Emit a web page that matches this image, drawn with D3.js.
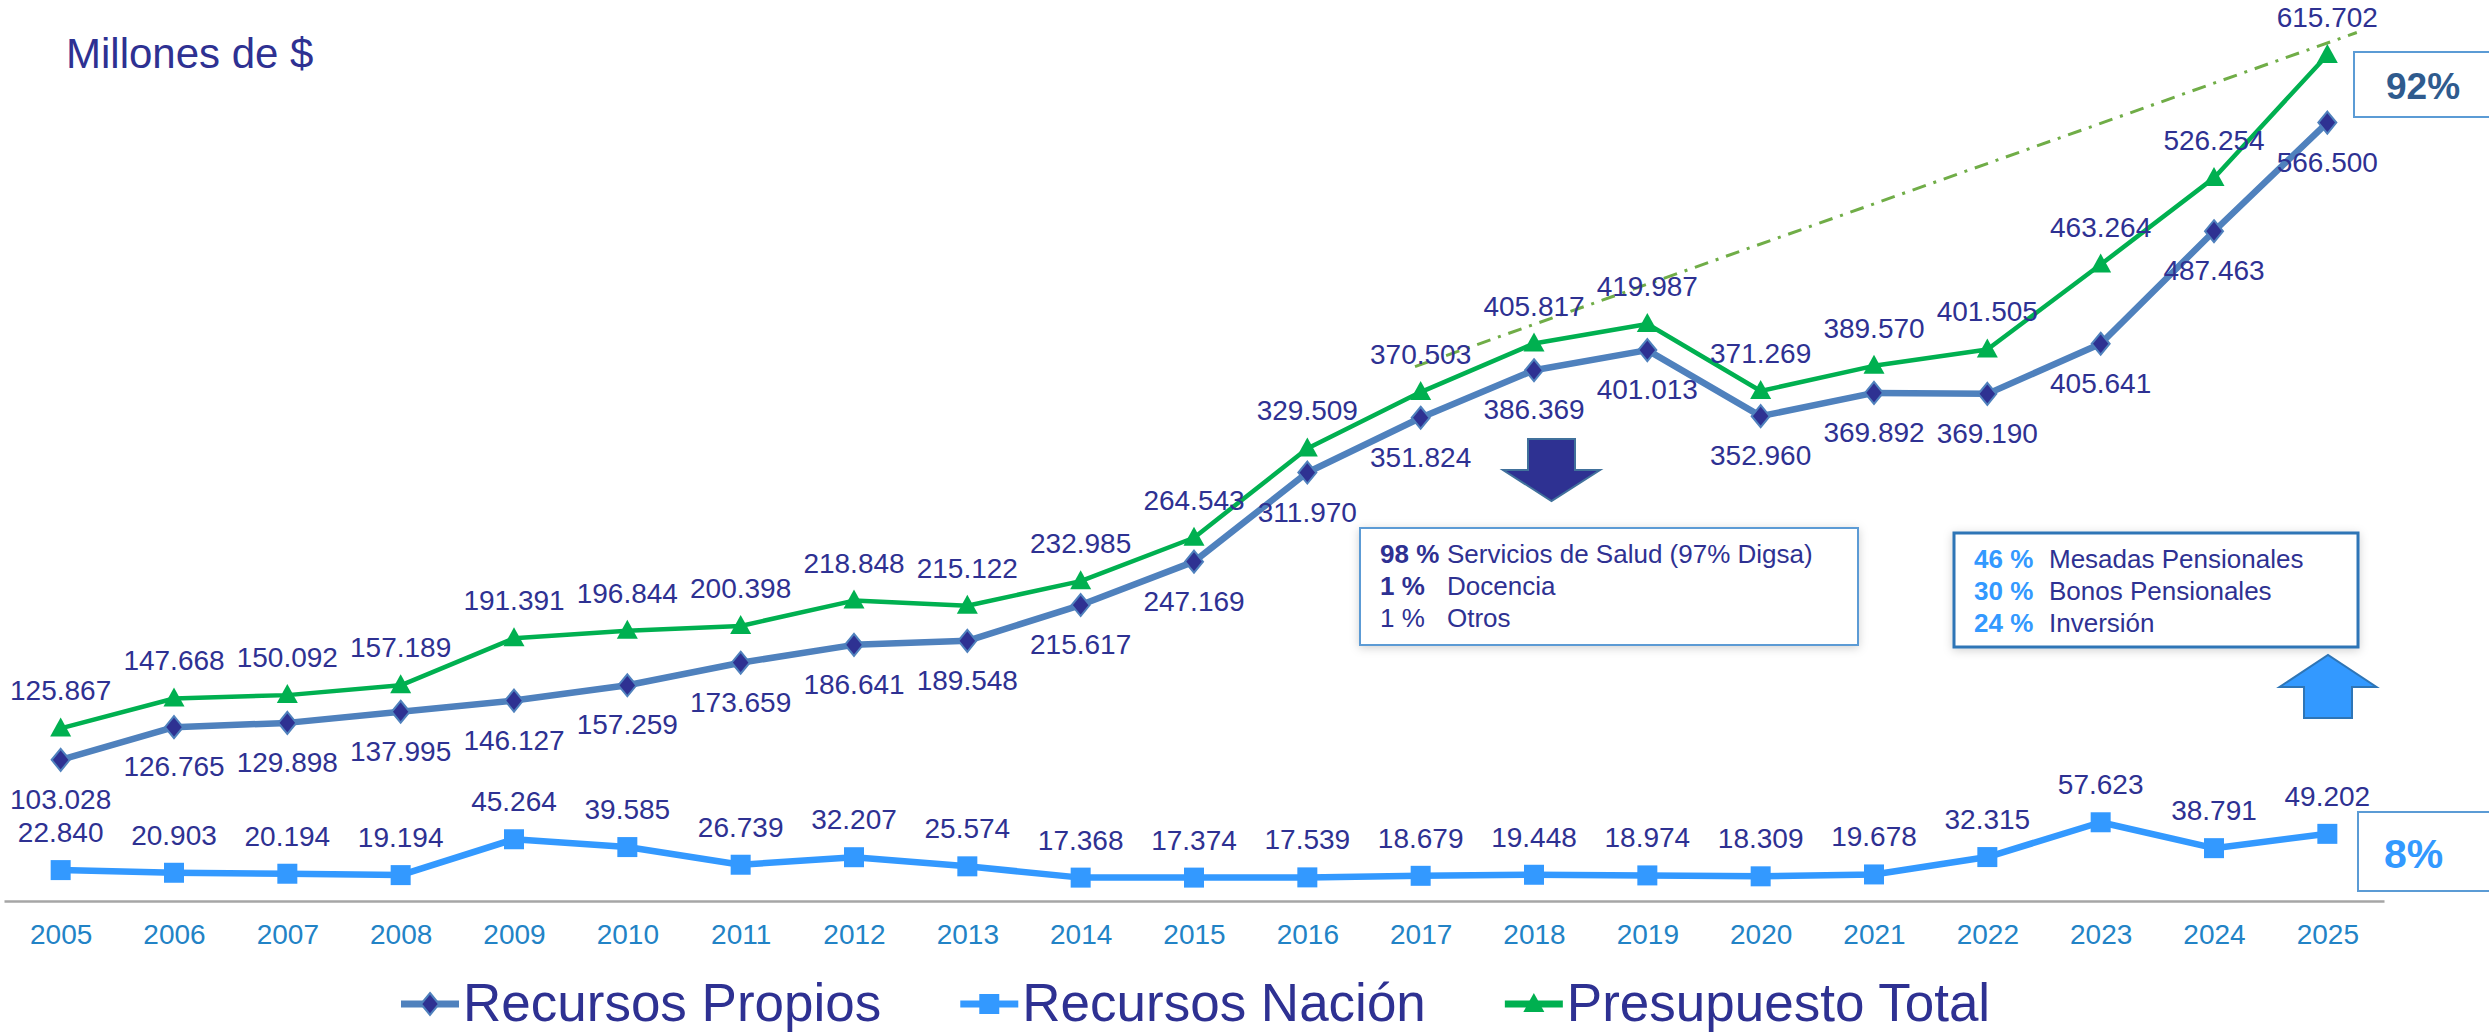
<!DOCTYPE html>
<html>
<head>
<meta charset="utf-8">
<script src="https://cdn.jsdelivr.net/npm/d3@7"></script>
<style>
  body { margin: 0; background: #fff; }
  svg { display: block; font-family: "Liberation Sans", Arial, sans-serif; }
</style>
</head>
<body>
<div id="chart"></div>
<script>
// Data (millones de $)
const years = [2005, 2006, 2007, 2008, 2009, 2010, 2011, 2012, 2013, 2014, 2015,
               2016, 2017, 2018, 2019, 2020, 2021, 2022, 2023, 2024, 2025];
const recursosPropios = [103.028, 126.765, 129.898, 137.995, 146.127, 157.259, 173.659, 186.641, 189.548, 215.617, 247.169,
                         311.970, 351.824, 386.369, 401.013, 352.960, 369.892, 369.190, 405.641, 487.463, 566.500];
const recursosNacion = [22.840, 20.903, 20.194, 19.194, 45.264, 39.585, 26.739, 32.207, 25.574, 17.368, 17.374,
                        17.539, 18.679, 19.448, 18.974, 18.309, 19.678, 32.315, 57.623, 38.791, 49.202];
const presupuestoTotal = [125.867, 147.668, 150.092, 157.189, 191.391, 196.844, 200.398, 218.848, 215.122, 232.985, 264.543,
                          329.509, 370.503, 405.817, 419.987, 371.269, 389.570, 401.505, 463.264, 526.254, 615.702];
const seriesNames = ['Recursos Propios', 'Recursos Nación', 'Presupuesto Total'];

// dash-dot trend annotation (year, value)
const trendYears = [2016.95, 2025.26];
const trendValues = [389, 632];

// text boxes
const saludPct = ['98 %', '1 %', '1 %'];
const saludTxt = ['Servicios de Salud (97% Digsa)', 'Docencia', 'Otros'];
const nacionPct = ['46 %', '30 %', '24 %'];
const nacionTxt = ['Mesadas Pensionales', 'Bonos Pensionales', 'Inversión'];
const shareLabels = ['92%', '8%'];

const NAVY = '#2E3192';
const W = 2489, H = 1034;

const svg = d3.select('#chart').append('svg')
    .attr('width', W).attr('height', H);

// soft shadow for the boxes
const defs = svg.append('defs');
const f = defs.append('filter').attr('id', 'shadow')
    .attr('x', '-10%').attr('y', '-20%').attr('width', '120%').attr('height', '140%');
f.append('feDropShadow').attr('dx', 0).attr('dy', 2).attr('stdDeviation', 5)
    .attr('flood-color', '#000').attr('flood-opacity', 0.18);

// Scales
const x = d3.scaleLinear().domain([2004.5, 2025.5]).range([4, 2384]);
const y = d3.scaleLinear().domain([0, 650]).range([901.5, 901.5 - 650 * 1.375]);

// Title
svg.append('text')
    .attr('x', 66).attr('y', 68)
    .style('font-size', '42px').style('fill', NAVY)
    .text('Millones de $');

// Axis
const xAxis = d3.axisBottom(x)
    .tickValues(years)
    .tickFormat(d3.format('d'))
    .tickSize(0)
    .tickPadding(23);

const gx = svg.append('g')
    .attr('transform', `translate(0,${y(0) - 0.5})`)
    .call(xAxis);
gx.select('.domain').style('stroke', '#A6A6A6').style('stroke-width', 2.5);
gx.selectAll('text')
    .style('font-size', '28px')
    .style('font-family', '"Liberation Sans", Arial, sans-serif')
    .style('fill', '#2283C6');

// Trend line (dash-dot)
const trend = trendYears.map((t, i) => [t, trendValues[i]]);
svg.append('path')
    .attr('d', d3.line().x(d => x(d[0])).y(d => y(d[1]))(trend))
    .attr('fill', 'none')
    .attr('stroke', '#70AD47')
    .attr('stroke-width', 3)
    .attr('stroke-dasharray', '14,8,3,8');

// Marker shapes
const markerPath = {
    diamond: 'M0,-11L9,0L0,11L-9,0Z',
    square: 'M-10,-10H10V10H-10Z',
    triangle: 'M0,-11L10.5,8L-10.5,8Z'
};

const series = [
    { name: seriesNames[0], values: recursosPropios, color: '#4F81BD', width: 6.5,
      marker: 'diamond', mfill: NAVY, mstroke: '#4F81BD', labelDy: 49 },
    { name: seriesNames[1], values: recursosNacion, color: '#3399FF', width: 6.5,
      marker: 'square', mfill: '#3399FF', mstroke: 'none', labelDy: -28 },
    { name: seriesNames[2], values: presupuestoTotal, color: '#00B050', width: 4.5,
      marker: 'triangle', mfill: '#00B050', mstroke: 'none', labelDy: -28 }
];

const line = d3.line()
    .x((d, i) => x(years[i]))
    .y(d => y(d));

series.forEach(s => {
    svg.append('path')
        .attr('d', line(s.values))
        .attr('fill', 'none')
        .attr('stroke', s.color)
        .attr('stroke-width', s.width)
        .attr('stroke-linejoin', 'round');

    svg.append('g').selectAll('path')
        .data(s.values)
        .join('path')
        .attr('d', markerPath[s.marker])
        .attr('transform', (d, i) => `translate(${x(years[i])},${y(d)})`)
        .attr('fill', s.mfill)
        .attr('stroke', s.mstroke)
        .attr('stroke-width', 2);
});

// Data labels
const fmt = d3.format('.3f');
series.forEach(s => {
    svg.append('g').selectAll('text')
        .data(s.values)
        .join('text')
        .attr('x', (d, i) => x(years[i]))
        .attr('y', d => y(d) + s.labelDy)
        .attr('text-anchor', 'middle')
        .style('font-size', '28px')
        .style('fill', NAVY)
        .text(d => fmt(d));
});

// Legend
let lx = 401;
series.forEach(s => {
    const g = svg.append('g');
    g.append('line')
        .attr('x1', lx).attr('x2', lx + 58)
        .attr('y1', 1004).attr('y2', 1004)
        .attr('stroke', s.color).attr('stroke-width', 7);
    g.append('path')
        .attr('d', markerPath[s.marker])
        .attr('transform', `translate(${lx + 29},1004)`)
        .attr('fill', s.mfill).attr('stroke', s.mstroke).attr('stroke-width', 2);
    const t = g.append('text')
        .attr('x', lx + 62).attr('y', 1021)
        .style('font-size', '53px').style('fill', NAVY)
        .text(s.name);
    lx += 62 + t.node().getComputedTextLength() + 79;
});

// Info boxes
function infoBox(bx, by, bw, bh, border, bwidth, pcts, txts, pctColor, pctBold, txtX) {
    svg.append('rect')
        .attr('x', bx).attr('y', by).attr('width', bw).attr('height', bh)
        .attr('fill', '#fff')
        .attr('stroke', border).attr('stroke-width', bwidth)
        .attr('filter', 'url(#shadow)');
    pcts.forEach((p, i) => {
        const ty = by + 35 + i * 32;
        svg.append('text')
            .attr('x', bx + 20).attr('y', ty)
            .style('font-size', '26px')
            .style('font-weight', pctBold[i] ? 'bold' : 'normal')
            .style('fill', pctColor)
            .text(p);
        svg.append('text')
            .attr('x', bx + txtX).attr('y', ty)
            .style('font-size', '26px').style('fill', NAVY)
            .text(txts[i]);
    });
}
infoBox(1360, 528, 498, 117, '#5B9BD5', 2, saludPct, saludTxt, NAVY, [true, true, false], 87);
infoBox(1954, 533, 404, 114, '#2E75B6', 3, nacionPct, nacionTxt, '#3399FF', [true, true, true], 95);

// Arrows
svg.append('path')
    .attr('d', 'M1528,439H1575V470H1600L1551.5,501L1503,470H1528Z')
    .attr('fill', NAVY).attr('stroke', '#41719C').attr('stroke-width', 2);
svg.append('path')
    .attr('d', 'M2304,718V687H2279.5L2328,655L2376.5,687H2352V718Z')
    .attr('fill', '#3399FF').attr('stroke', '#2E75B6').attr('stroke-width', 2);

// Share boxes
svg.append('rect')
    .attr('x', 2354).attr('y', 52).attr('width', 200).attr('height', 65)
    .attr('fill', '#fff').attr('stroke', '#5B9BD5').attr('stroke-width', 2);
svg.append('text')
    .attr('x', 2386).attr('y', 99)
    .style('font-size', '37px').style('font-weight', 'bold').style('fill', '#2F5B8E')
    .text(shareLabels[0]);

svg.append('rect')
    .attr('x', 2358).attr('y', 812).attr('width', 200).attr('height', 79)
    .attr('fill', '#fff').attr('stroke', '#5B9BD5').attr('stroke-width', 2);
svg.append('text')
    .attr('x', 2384).attr('y', 868)
    .style('font-size', '41px').style('font-weight', 'bold').style('fill', '#3399FF')
    .text(shareLabels[1]);
</script>
</body>
</html>
